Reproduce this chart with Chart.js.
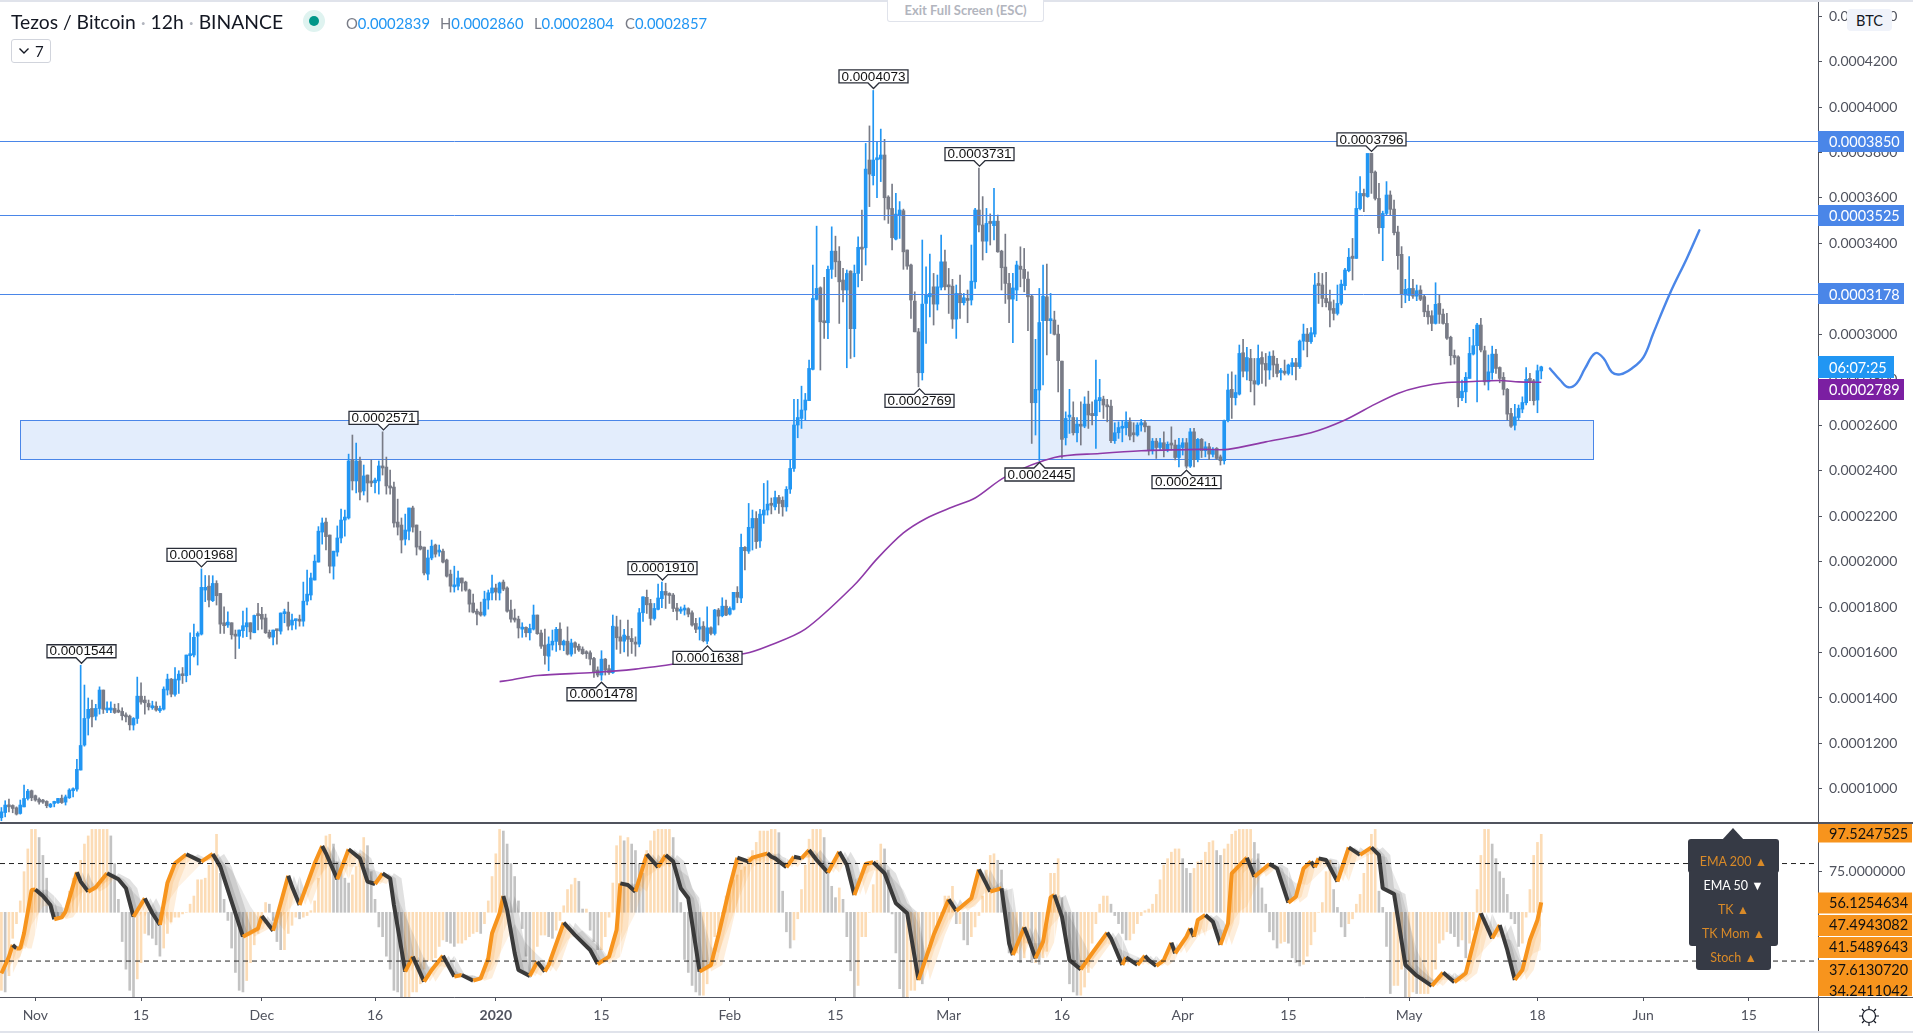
<!DOCTYPE html>
<html><head><meta charset="utf-8"><title>Tezos / Bitcoin</title>
<script src="https://cdn.jsdelivr.net/npm/chart.js@4/dist/chart.umd.js"></script>
<style>
html,body{margin:0;background:#fff;overflow:hidden}
#page{position:relative;width:1913px;height:1035px;overflow:hidden;font-family:Lato,sans-serif}
canvas{position:absolute;left:0}
.a{position:absolute;white-space:nowrap}
.g{color:#787b86}.b{color:#2196f3}
.pop{position:absolute;background:#363a45;border-radius:3px}
.pt{position:absolute;left:1688px;width:91px;text-align:center;font:12.5px Lato,sans-serif;line-height:16px;white-space:nowrap}
</style></head><body><div id="page">
<canvas id="main" width="1913" height="823" style="top:0"></canvas>
<canvas id="osc" width="1913" height="208" style="top:823px"></canvas>
<div class="a" style="left:0;top:0;width:1913px;height:2px;background:#e0e3eb"></div>
<div class="a" style="left:0;top:1031px;width:1913px;height:2px;background:#e0e3eb"></div>
<div class="a" style="left:0;top:822px;width:1913px;height:2px;background:#50535e"></div>
<div class="a" style="left:1818px;top:997px;width:95px;height:1px;background:#50535e"></div>
<div class="a" style="left:1818px;top:997px;width:1px;height:34px;background:#50535e"></div>
<div class="a" style="left:887px;top:0;width:155px;height:21px;border:1px solid #e0e3eb;border-top:0;border-radius:0 0 3px 3px;background:#fff;color:#b2b5be;font:bold 13px Lato,sans-serif;text-align:center;line-height:20px">Exit Full Screen (ESC)</div>
<div class="a" style="left:11px;top:10px;font-size:19.3px;color:#131722;line-height:24px">Tezos / Bitcoin <span style="color:#b2b5be">·</span> 12h <span style="color:#b2b5be">·</span> BINANCE</div>
<div class="a" style="left:303px;top:10px;width:22px;height:22px;border-radius:50%;background:#dff3f0"></div>
<div class="a" style="left:309px;top:16px;width:10px;height:10px;border-radius:50%;background:#009688"></div>
<div class="a" style="left:346px;top:14px;font-size:14.8px;line-height:19px"><span class="g">O</span><span class="b">0.0002839</span></div>
<div class="a" style="left:440px;top:14px;font-size:14.8px;line-height:19px"><span class="g">H</span><span class="b">0.0002860</span></div>
<div class="a" style="left:534px;top:14px;font-size:14.8px;line-height:19px"><span class="g">L</span><span class="b">0.0002804</span></div>
<div class="a" style="left:625px;top:14px;font-size:14.8px;line-height:19px"><span class="g">C</span><span class="b">0.0002857</span></div>
<div class="a" style="left:11px;top:39px;width:38px;height:22px;border:1px solid #d1d4dc;border-radius:3px"></div>
<svg class="a" style="left:18px;top:47px" width="12" height="8"><path d="M1.5 1.5L6 6L10.5 1.5" fill="none" stroke="#131722" stroke-width="1.4"/></svg>
<div class="a" style="left:35px;top:41px;font-size:15px;color:#131722;line-height:20px">7</div>
<div class="a" style="left:1847px;top:9px;width:45px;height:22px;border-radius:4px;background:#f0f3fa;color:#131722;font-size:14.5px;text-align:center;line-height:23px">BTC</div>
<svg class="a" style="left:1857px;top:1004px" width="24" height="24"><g fill="none" stroke="#131722" stroke-width="1.2"><circle cx="12" cy="12" r="6.5"/><path d="M12 2v3M12 19v3M2 12h3M19 12h3M5 5l2 2M17 17l2 2M5 19l2-2M17 7l2-2"/></g></svg>
<svg class="a" style="left:1722px;top:828px" width="22" height="12"><path d="M0 12L11 0L22 12Z" fill="#363a45"/></svg>
<div class="pop" style="left:1688px;top:839px;width:91px;height:34px"></div>
<div class="pop" style="left:1689px;top:870px;width:89px;height:76px"></div>
<div class="pop" style="left:1696px;top:940px;width:75px;height:30px"></div>
<div class="pt" style="top:854px;color:#d98a28">EMA 200 ▲</div>
<div class="pt" style="top:878px;color:#fff">EMA 50 ▼</div>
<div class="pt" style="top:902px;color:#d98a28">TK ▲</div>
<div class="pt" style="top:926px;color:#d98a28">TK Mom ▲</div>
<div class="pt" style="top:950px;color:#d98a28">Stoch ▲</div>
</div>
<script>
// Prices in units of 0.0000001 BTC, one entry per 12h bar
const opens=[873,896,929,927,917,892,921,958,992,970,
955,948,945,921,936,939,959,942,961,992,
999,1083,1193,1311,1354,1320,1354,1435,1347,1347,
1354,1342,1341,1325,1320,1281,1310,1408,1391,1376,
1357,1364,1344,1351,1435,1483,1416,1479,1505,1498,
1586,1589,1672,1681,1875,1892,1828,1904,1860,1731,
1721,1731,1681,1672,1696,1713,1731,1687,1765,1768,
1752,1689,1668,1699,1694,1771,1778,1721,1740,1746,
1738,1826,1853,1919,1998,2130,2174,2117,1980,2042,
2104,2183,2192,2447,2355,2443,2311,2381,2350,2347,
2355,2421,2416,2333,2328,2174,2161,2099,2134,2236,
2161,2068,2064,1945,2016,2073,2042,2046,2007,1945,
1889,1892,1928,1910,1875,1818,1782,1778,1765,1831,
1862,1884,1862,1910,1884,1787,1747,1747,1703,1711,
1687,1703,1765,1686,1633,1584,1633,1649,1703,1633,
1650,1593,1643,1628,1615,1598,1599,1574,1523,1501,
1571,1529,1511,1713,1669,1650,1672,1662,1646,1637,
1775,1843,1816,1750,1790,1837,1869,1859,1853,1796,
1782,1787,1793,1775,1728,1703,1716,1650,1709,1684,
1787,1762,1804,1769,1790,1865,1840,2063,2046,2148,
2190,2091,2205,2227,2253,2241,2282,2270,2241,2319,
2410,2601,2630,2667,2708,2846,3154,3205,3058,3051,
3286,3366,3322,3239,3195,3278,3025,3268,3383,3381,
3767,3698,3768,3771,3789,3604,3554,3419,3522,3544,
3371,3305,3146,3011,2831,3136,3165,3209,3133,3207,
3319,3212,3212,3067,3180,3139,3158,3151,3231,3547,
3481,3410,3495,3478,3498,3366,3296,3224,3155,3195,
3300,3286,3243,3168,2699,2755,3060,3165,3060,3063,
3001,2882,2545,2636,2634,2567,2601,2596,2693,2652,
2642,2708,2715,2689,2684,2532,2567,2587,2589,2615,
2567,2557,2601,2611,2596,2488,2530,2502,2523,2494,
2517,2513,2458,2502,2523,2420,2571,2449,2538,2488,
2505,2472,2498,2461,2444,2620,2758,2721,2737,2919,
2838,2894,2796,2781,2898,2872,2843,2904,2869,2832,
2838,2828,2858,2875,2858,2970,3001,2968,3001,3221,
3217,3158,3143,3114,3092,3136,3214,3280,3344,3334,
3553,3620,3606,3796,3714,3598,3469,3532,3613,3551,
3450,3352,3173,3171,3202,3168,3195,3166,3102,3082,
3048,3136,3089,3048,2987,2906,2901,2721,2747,2806,
2913,2950,3041,2928,2791,2832,2913,2854,2811,2758,
2652,2600,2634,2671,2699,2806,2796,2711,2839];
const closes=[899,929,921,914,889,929,958,990,961,951,
942,942,926,933,942,958,940,965,995,999,
1086,1191,1310,1350,1317,1354,1435,1350,1353,1356,
1336,1338,1322,1317,1282,1310,1408,1382,1379,1361,
1366,1347,1354,1439,1483,1417,1483,1505,1498,1589,
1593,1667,1684,1887,1887,1831,1904,1850,1725,1718,
1734,1678,1672,1699,1718,1731,1691,1763,1762,1747,
1687,1668,1699,1696,1774,1778,1716,1743,1747,1738,
1826,1857,1928,2002,2134,2170,2110,1980,2046,2104,
2183,2196,2443,2355,2443,2306,2377,2346,2346,2359,
2421,2412,2333,2324,2170,2152,2095,2139,2236,2152,
2064,2055,1950,2016,2068,2033,2046,1998,1936,1892,
1897,1928,1906,1875,1813,1778,1769,1765,1835,1863,
1884,1866,1906,1879,1782,1747,1743,1708,1712,1687,
1706,1765,1683,1628,1587,1637,1650,1702,1634,1650,
1593,1642,1623,1611,1595,1595,1571,1515,1501,1571,
1523,1511,1716,1665,1650,1677,1658,1648,1637,1775,
1845,1810,1750,1794,1840,1869,1853,1851,1794,1782,
1791,1791,1769,1721,1702,1713,1652,1709,1684,1787,
1760,1804,1765,1794,1865,1843,2063,2048,2151,2190,
2088,2209,2227,2253,2248,2282,2256,2241,2318,2410,
2601,2634,2667,2711,2850,3158,3202,3055,3051,3286,
3366,3319,3231,3195,3268,3025,3268,3383,3375,3727,
3705,3767,3776,3789,3601,3551,3425,3529,3547,3363,
3300,3151,3011,2831,3133,3173,3180,3133,3209,3319,
3209,3209,3067,3180,3139,3161,3149,3234,3547,3481,
3410,3488,3488,3498,3363,3293,3224,3155,3204,3305,
3286,3246,3165,2699,2758,3052,3168,3060,3066,3000,
2884,2538,2630,2643,2567,2605,2596,2693,2645,2642,
2711,2722,2689,2681,2532,2567,2590,2593,2615,2552,
2558,2601,2611,2593,2488,2530,2502,2523,2494,2516,
2513,2458,2513,2523,2420,2571,2449,2538,2488,2505,
2473,2494,2454,2444,2620,2755,2722,2744,2916,2838,
2898,2796,2781,2894,2869,2843,2904,2865,2828,2838,
2829,2865,2875,2858,2970,3001,2968,3007,3217,3215,
3158,3139,3107,3092,3136,3221,3283,3339,3334,3554,
3620,3609,3796,3711,3598,3469,3532,3613,3550,3447,
3346,3176,3198,3202,3168,3192,3154,3099,3077,3048,
3132,3088,3048,2983,2906,2898,2721,2750,2811,2916,
2950,3041,2931,2791,2835,2913,2850,2806,2758,2649,
2596,2637,2674,2700,2802,2791,2708,2840,2857];
const highs=[918,948,955,930,921,951,1017,998,995,973,
961,954,948,936,946,959,973,973,1001,1005,
1130,1544,1457,1400,1391,1372,1449,1435,1383,1383,
1373,1376,1357,1335,1325,1314,1492,1467,1408,1391,
1386,1383,1364,1449,1505,1486,1534,1520,1534,1589,
1687,1725,1691,1968,1939,1939,1938,1916,1860,1801,
1779,1731,1699,1699,1782,1796,1731,1765,1816,1799,
1769,1699,1699,1699,1774,1791,1822,1769,1747,1765,
1910,1963,1950,2029,2154,2192,2192,2117,2046,2157,
2231,2227,2473,2557,2522,2460,2425,2381,2447,2368,
2443,2571,2460,2403,2350,2275,2192,2209,2236,2244,
2161,2134,2064,2051,2095,2077,2073,2055,2011,1963,
1980,1958,1928,1914,1879,1857,1791,1822,1870,1875,
1941,1901,1910,1919,1889,1831,1791,1760,1731,1713,
1725,1809,1765,1699,1703,1669,1699,1711,1731,1655,
1713,1659,1647,1637,1625,1608,1608,1579,1537,1608,
1574,1545,1765,1760,1743,1702,1743,1706,1669,1794,
1845,1875,1834,1816,1901,1910,1905,1863,1860,1816,
1801,1809,1797,1784,1750,1753,1736,1801,1713,1790,
1794,1841,1831,1801,1865,1890,2121,2066,2256,2227,
2220,2230,2344,2356,2280,2310,2292,2285,2330,2450,
2714,2714,2772,2740,2887,3305,3476,3209,3251,3300,
3473,3432,3386,3290,3283,3280,3305,3429,3547,3840,
3917,4073,3845,3903,3858,3610,3661,3620,3584,3551,
3371,3309,3187,3026,3415,3297,3353,3268,3261,3437,
3371,3290,3242,3217,3261,3180,3195,3393,3554,3731,
3606,3554,3530,3642,3525,3370,3441,3268,3268,3322,
3385,3378,3275,3173,2978,3202,3305,3309,3180,3102,
3041,2882,2659,2758,2703,2634,2703,2725,2750,2703,
2887,2802,2728,2714,2711,2611,2615,2620,2659,2633,
2611,2611,2626,2622,2596,2542,2542,2542,2571,2527,
2593,2535,2542,2542,2542,2586,2586,2542,2542,2527,
2520,2502,2502,2469,2623,2825,2835,2821,2953,2978,
2943,2934,2894,2953,2923,2916,2923,2928,2894,2850,
2887,2869,2894,2894,2975,3045,3026,3030,3268,3273,
3268,3273,3195,3151,3217,3239,3290,3378,3422,3628,
3694,3639,3790,3796,3719,3664,3542,3672,3631,3591,
3476,3386,3242,3342,3242,3217,3214,3173,3129,3104,
3227,3173,3111,3092,2992,2931,2906,2799,2832,2987,
3022,3048,3070,2948,2909,2948,2934,2857,2832,2762,
2674,2692,2689,2725,2854,2828,2802,2865,2860];
const lows=[860,877,899,895,885,889,921,951,948,946,
933,936,917,918,921,936,936,929,958,965,
990,1083,1188,1237,1273,1303,1329,1332,1335,1335,
1332,1335,1303,1295,1259,1259,1288,1373,1329,1347,
1350,1342,1336,1347,1413,1405,1408,1420,1464,1471,
1501,1581,1545,1677,1824,1801,1824,1809,1684,1684,
1711,1659,1573,1618,1667,1670,1659,1687,1699,1703,
1684,1662,1633,1637,1681,1731,1699,1699,1703,1716,
1716,1809,1831,1919,1998,2077,2051,1950,1923,2024,
2082,2112,2187,2315,2302,2271,2293,2262,2330,2302,
2297,2381,2297,2297,2152,2117,2038,2073,2095,2130,
2029,2051,1941,1919,2008,2020,2024,1994,1932,1866,
1866,1875,1870,1870,1778,1774,1721,1760,1760,1791,
1831,1831,1831,1872,1778,1734,1734,1664,1667,1669,
1655,1699,1680,1618,1549,1520,1611,1605,1611,1608,
1589,1584,1596,1605,1592,1574,1545,1490,1493,1478,
1501,1504,1508,1614,1596,1603,1584,1596,1584,1625,
1737,1772,1721,1743,1787,1797,1794,1816,1780,1743,
1772,1765,1757,1716,1687,1655,1647,1638,1677,1677,
1721,1757,1762,1765,1787,1819,1819,1963,2036,2051,
2058,2063,2168,2205,2210,2227,2212,2200,2222,2300,
2397,2545,2586,2623,2708,2843,3151,2843,2982,2981,
3246,3253,3048,3143,2853,2894,2901,3209,3236,3305,
3562,3657,3601,3672,3503,3488,3371,3415,3422,3286,
3286,3070,3011,2769,2799,2960,3077,3041,3107,3195,
3195,3092,3026,2982,3070,3129,3051,3129,3202,3451,
3327,3359,3393,3415,3361,3195,3136,3051,2963,3148,
3209,3187,3016,2520,2557,2445,2777,2909,3004,2997,
2747,2455,2513,2564,2557,2527,2513,2589,2586,2601,
2498,2659,2630,2615,2523,2520,2542,2527,2557,2535,
2527,2552,2574,2571,2469,2473,2454,2488,2461,2483,
2491,2447,2417,2469,2411,2414,2417,2439,2458,2461,
2449,2461,2449,2425,2429,2615,2630,2689,2733,2813,
2799,2747,2689,2777,2784,2772,2802,2813,2813,2799,
2821,2821,2821,2799,2850,2931,2901,2960,2989,3136,
3121,3121,3033,3063,3085,3129,3195,3275,3239,3334,
3547,3540,3603,3620,3591,3444,3324,3525,3525,3437,
3286,3117,3139,3148,3158,3148,3148,3078,3045,3016,
3045,3048,3045,2978,2865,2869,2681,2708,2699,2806,
2909,2703,2923,2777,2755,2802,2828,2787,2733,2623,
2590,2579,2623,2655,2689,2708,2689,2655,2804];
const maBars=[132,135,142,157,168,178,197,203,213,226,232,239,245,252,258,266,279,291,302,318,325,335,347,356,364,370,376,383,388,397,402,408];
const maValues=[1472,1479,1499,1512,1527,1549,1596,1628,1703,1897,2012,2126,2190,2240,2280,2373,2458,2476,2488,2494,2494,2527,2567,2623,2693,2740,2769,2788,2791,2797,2791,2789];
const curveBars=[410.3,413,415.2,417.4,419.6,422.3,424.5,426.7,428.9,432,435.1,437.7,442.1,446.6,449.9];
const curveValues=[2850,2799,2767,2785,2850,2917,2895,2834,2824,2850,2900,3005,3180,3335,3458];
const levelPrices=[3850,3525,3178];
const zoneBars=[5.06,421.8];
const zonePrices=[2450,2623];
const priceTicks=[1000,1200,1400,1600,1800,2000,2200,2400,2600,2800,3000,3200,3400,3600,3800,4000,4200,4400];
const calloutBars=[21,53,101,175,231,259,363,159,187,243,275,314];
const calloutPrices=[1544,1968,2571,1910,4073,3731,3796,1478,1638,2769,2445,2411];
const calloutIsHigh=[1,1,1,1,1,1,1,0,0,0,0,0];
const lastPrice=2857, maPrice=2789, timerText="06:07:25";
// Oscillator: histogram per bar around 50
const histValues=[2,1,11,34,43,57,75,89,101,101,96,85,71,55,47,46,47,50,63,71,75,82,92,97,101,101,101,101,101,97,80,58,32,15,2,-2,9,19,37,36,34,30,23,28,37,44,47,47,49,50,55,60,70,70,71,79,86,98,74,58,45,28,13,2,1,8,19,30,37,47,56,55,45,32,27,27,37,42,47,46,47,48,51,57,71,88,97,98,92,81,75,71,68,73,78,86,96,91,75,58,41,35,23,15,2,1,-2,-2,-2,1,1,6,15,20,20,22,29,33,32,31,29,31,31,33,35,37,38,37,43,57,72,86,101,
100,92,80,72,57,40,23,10,15,29,36,36,35,34,39,45,54,64,67,71,69,52,52,39,32,27,27,35,47,68,91,97,94,96,92,88,80,74,88,94,100,101,101,101,101,96,72,56,21,13,5,1,-1,-1,6,19,35,39,49,60,66,70,73,76,78,84,88,93,100,100,100,101,101,99,63,38,28,33,46,64,79,95,101,101,101,96,74,66,59,65,58,35,14,-2,5,35,35,50,67,82,92,89,76,49,25,3,-2,-2,2,2,8,6,21,31,35,42,49,60,60,66,43,43,33,30,35,41,48,60,76,85,86,82,
76,51,25,25,25,19,22,31,19,19,18,22,26,74,74,83,59,31,6,1,-1,-1,4,13,31,43,55,60,60,55,48,43,37,33,33,37,43,48,51,52,55,61,70,79,83,87,89,89,83,77,74,77,81,82,87,93,94,88,85,89,92,98,100,101,101,101,101,93,86,65,55,38,33,28,31,32,31,22,19,17,18,23,30,38,50,56,75,82,64,53,41,35,43,46,55,61,74,86,98,101,63,53,29,0,5,5,15,-2,-2,1,0,0,0,0,8,15,31,33,38,37,35,29,33,22,31,39,64,85,101,101,92,83,75,71,61,46,43,29,31,47,64,85,93,98];
// Fast TK line vertices
const tkBars=[0,2,3,4,5,6,8,9,11,13,14,16,17,20,21,23,25,28,31,33,35,38,40,42,44,46,49,53,56,58,64,68,69,72,76,77,79,83,85,86,89,92,95,97,99,101,103,104,107,109,112,114,117,120,122,125,127,129,130,132,133,134,136,137,140,142,144,145,149,152,156,158,161,163,164,166,168,171,174,176,178,180,182,185,188,190,193,195,198,199,203,204,205,208,210,212,214,216,219,222,224,226,229,231,234,237,240,243,246,247,251,253,257,259,262,265,267,268,271,272,274,276,278,279,281,283,286,289,293,294,297,298,301,303,304,306,308,310,311,314,315,316,317,319,321,323,325,326,330,332,336,338,341,343,345,347,348,349,351,354,357,360,363,365,366,369,372,375,379,382,385,388,392,395,397,399,401,403,405,407,408];
const tkValues=[12.4,22.7,29.9,27.8,27.8,37.1,63.7,64.1,60,54.5,45.7,46.9,50.4,74.6,68.9,62.7,65.4,74,70.3,64.8,47.3,58.6,49.4,42.2,68.2,80.1,85.7,81.2,85.9,78.1,35,40.1,47.7,38.7,72.5,65.8,54.5,80.1,90.8,86.3,70.3,88.8,83.2,68.9,67.4,74,70.9,54.5,13.5,22.7,7.3,14.5,23.3,10.4,11.4,7.9,9.4,21.7,37.1,49.4,60,51.4,24.8,14.5,10.8,19.6,13.5,17.6,43.6,36,26.8,18.2,22.7,39.1,67.8,66.8,62.7,85.7,77.7,85.3,81.2,64.8,58.6,13.5,17.6,36,65.8,83.6,81.2,83.6,86.3,84.2,83.2,77.7,84.2,83.2,88.3,82.2,74.4,87.3,79.1,60.6,79.7,80.8,74,55.5,49.4,8.4,28.9,36,58,50.8,58.6,76.4,62.7,64.8,30.9,23.7,40.8,35,21.7,31.9,59.2,60.7,47.3,20.6,14.9,24.8,37.5,34,17.6,22.3,17.6,23.3,20.6,17,20.6,31.3,24.8,35,40.1,35,45.3,48.4,44.2,29.9,43.2,74,83.6,71.9,79.7,77,55.9,59.6,77,81.2,77.7,83.2,82.2,68.9,90,85.3,90,85.3,64.8,61.3,17.6,11,4.7,12.9,7,12.5,49.4,34,42.2,26.8,8.4,14.5,33,45.3,56.1];
// Lagging edge of the TK ribbon
const ribbonBars=[2,5,8,11,14,17,21,26,30,34,37,42,47,53,57,61,66,69,72,76,80,85,88,92,96,100,103,106,111,113,117,122,126,130,132,136,139,143,146,150,154,158,161,164,168,171,175,177,182,185,188,190,193,196,199,203,207,210,214,219,222,225,226,231,235,239,243,245,248,251,254,258,260,265,268,271,275,278,282,287,289,293,297,303,306,310,315,321,325,328,330,334,338,343,346,351,354,358,363,367,371,375,379,384,388,392,396,400,403,406,408];
const ribbonValues=[17.6,22.7,42.2,53.5,54.5,52.5,61.7,66.8,70.9,64.8,57.6,49.4,65.8,80.1,84.2,76,53.5,43.2,42.2,51.4,61.7,74,82.2,78,78,75,69.9,53.5,26.8,16.6,16.6,12.4,10.4,14.5,24,43,31,21.7,16.6,33,39,31,21.7,31,49.4,72,78,81,72,53.5,29,24.8,43,61.7,78,82,81,80,84,81,81,77,70,76,74,63.7,43,21.7,31,45,51.4,53.5,60.6,68.9,51,31,31,41,51.4,31,20.6,31,26.8,20.6,18.6,24.8,34,40,39,50.4,53.5,74,78,67.8,66.8,78,78,80,86,84,61.7,26.8,8.4,8.4,14.5,24.8,35,33,16.6,24.8,26.8];
const ribbonLags=[1.5,3];
const oscLevels=[80,20];
const oscTicks=[75];
const oscTagValues=[97.5247525,56.1254634,47.4943082,41.5489643,37.6130720,34.2411042];
const timeBars=[9,37,69,99,131,159,193,221,251,281,313,341,373,407,435,463];
const timeLabels=["Nov","15","Dec","16","2020","15","Feb","15","Mar","16","Apr","15","May","18","Jun","15"];

const BLUE="#2196f3",GRAY="#787b86",LINE="#4a86e8",AXIS="#50535e",ORANGE="#f7941d",DARK="#3a3a3a";
const TICKFONT={family:"Lato",size:14};
const xMin=-0.371,xMax=481.33;
const seq=(xs,ys)=>xs.map((x,i)=>({x,y:ys[i]}));
const up=i=>closes[i]>=opens[i];
const candleColors=opens.map((_,i)=>up(i)?BLUE:GRAY);
const histColors=histValues.map((v,i)=>(i===0||v>=histValues[i-1])?"#fcdcb6":"#c3c3c3");
const noPad=s=>{s.paddingTop=0;s.paddingBottom=0;s.paddingLeft=0;s.paddingRight=0};
Chart.defaults.animation=false;
Chart.defaults.responsive=false;

const zonePlugin={id:"zone",beforeDatasetsDraw(c){
  const g=c.ctx,x=c.scales.x,y=c.scales.y;
  const x0=x.getPixelForValue(zoneBars[0]),x1=x.getPixelForValue(zoneBars[1]);
  const y0=y.getPixelForValue(zonePrices[1]),y1=y.getPixelForValue(zonePrices[0]);
  g.save();g.fillStyle="#e3edfc";g.fillRect(x0,y0,x1-x0,y1-y0);
  g.strokeStyle=LINE;g.lineWidth=1;g.strokeRect(Math.round(x0)+.5,Math.round(y0)+.5,Math.round(x1-x0),Math.round(y1-y0));g.restore();
}};
const fmt=v=>(v/1e7).toFixed(7);
function tag(g,y,w,h,bg,fg,text,left){
  g.fillStyle=bg;g.fillRect(left,Math.round(y-h/2),w,h);
  g.fillStyle=fg;g.font="14.5px Lato";g.textAlign="left";g.textBaseline="middle";
  g.fillText(text,left+11,y+1);
}
const mainOverlay={id:"mainOverlay",afterDatasetsDraw(c){
  const g=c.ctx,x=c.scales.x,y=c.scales.y;
  g.save();
  g.strokeStyle=LINE;g.lineWidth=1;
  levelPrices.forEach(v=>{const p=Math.round(y.getPixelForValue(v))+.5;g.beginPath();g.moveTo(0,p);g.lineTo(1818,p);g.stroke();});
  calloutBars.forEach((b,i)=>{
    const px=Math.round(x.getPixelForValue(b))+.5,v=calloutPrices[i],hi=calloutIsHigh[i];
    const tip=y.getPixelForValue(v)+(hi?-2:2),d=hi?-1:1;
    const near=tip+d*5.5,far=near+d*13,t=Math.min(near,far);
    g.beginPath();g.moveTo(px-34.5,near);g.lineTo(px-5.5,near);g.lineTo(px,tip);g.lineTo(px+5.5,near);g.lineTo(px+34.5,near);g.lineTo(px+34.5,far);g.lineTo(px-34.5,far);g.closePath();
    g.fillStyle="#fff";g.fill();g.strokeStyle="#2a2e39";g.lineWidth=1.3;g.stroke();
    g.fillStyle="#111";g.font="13.5px 'Liberation Sans'";g.textAlign="center";g.textBaseline="middle";
    g.fillText(fmt(v),px,t+7);
  });
  g.restore();
},afterDraw(c){
  const g=c.ctx,y=c.scales.y;g.save();
  levelPrices.forEach(v=>tag(g,y.getPixelForValue(v),86,21,LINE,"#fff",fmt(v),1818));
  tag(g,y.getPixelForValue(lastPrice),76,22,BLUE,"#fff",timerText,1818);
  // the EMA tag is pushed below the timer tag, as the price axis stacks them
  tag(g,y.getPixelForValue(lastPrice)+22.5,86,21,"#7b1fa2","#fff",fmt(maPrice),1818);
  g.restore();
}};
new Chart(document.getElementById("main"),{type:"bar",plugins:[zonePlugin,mainOverlay],
 data:{datasets:[
  {label:"Wicks",order:5,grouped:false,barThickness:1,minBarLength:1,backgroundColor:candleColors,data:opens.map((_,i)=>({x:i,y:[lows[i],highs[i]]}))},
  {label:"Bodies",order:4,grouped:false,barThickness:3,minBarLength:2,backgroundColor:candleColors,data:opens.map((o,i)=>({x:i,y:[Math.min(o,closes[i]),Math.max(o,closes[i])]}))},
  {type:"line",label:"EMA 200",order:2,borderColor:"#8e3aa8",borderWidth:1.6,pointRadius:0,tension:.3,data:seq(maBars,maValues)},
  {type:"line",label:"Path",order:1,borderColor:LINE,borderWidth:2.4,pointRadius:0,tension:.4,borderCapStyle:"round",data:seq(curveBars,curveValues)}
 ]},
 options:{layout:{padding:0},plugins:{legend:{display:false},tooltip:{enabled:false}},
 scales:{
  x:{type:"linear",display:false,offset:false,min:xMin,max:xMax,grid:{display:false}},
  y:{type:"linear",position:"right",min:850,max:4471,afterFit(s){s.width=95;noPad(s)},
     afterBuildTicks(s){s.ticks=priceTicks.map(value=>({value}))},
     border:{display:true,color:AXIS,width:1},grid:{drawOnChartArea:false,tickLength:4,tickColor:AXIS},
     ticks:{font:TICKFONT,color:AXIS,padding:7,callback:v=>fmt(v)}}
 }}
});
const oscOverlay={id:"oscOverlay",afterDraw(c){
  const g=c.ctx;g.save();
  const slots=[10.5,79.5,102,124,147,168];
  oscTagValues.forEach((v,i)=>{const h=i===5?15:21;
    g.fillStyle=ORANGE;g.fillRect(1818,slots[i]-10,94,i===0?19:h);
    g.fillStyle="#111";g.font="14.5px Lato";g.textAlign="left";g.textBaseline="middle";g.fillText(v.toFixed(7),1829,slots[i]+.5);
  });
  g.restore();
}};
const rise=ctx=>ctx.p1.parsed.y>=ctx.p0.parsed.y?ORANGE:DARK;
const fan=(above,below)=>({target:1,above,below});
new Chart(document.getElementById("osc"),{type:"bar",plugins:[oscOverlay],
 data:{datasets:[
  {label:"Stoch",order:6,grouped:false,barThickness:2,backgroundColor:histColors,data:histValues.map((v,i)=>({x:i,y:[Math.min(50,v),Math.max(50,v)]}))},
  {type:"line",label:"TK",order:1,borderWidth:4,pointRadius:0,borderColor:ORANGE,borderJoinStyle:"bevel",segment:{borderColor:rise},data:seq(tkBars,tkValues)},
  {type:"line",label:"Ribbon",order:4,borderWidth:0,pointRadius:0,fill:fan("rgba(70,70,70,.12)","rgba(247,148,29,.12)"),data:seq(ribbonBars,ribbonValues)},
  ...ribbonLags.map(lag=>({type:"line",label:"Ribbon lag",order:3,borderWidth:0,pointRadius:0,fill:fan("rgba(70,70,70,.16)","rgba(247,148,29,.16)"),data:seq(tkBars.map(b=>b+lag),tkValues)})),
  ...oscLevels.map(v=>({type:"line",label:"Level",order:0,borderColor:"#222",borderWidth:1,borderDash:[5,4],pointRadius:0,data:[{x:xMin,y:v},{x:xMax,y:v}]}))
 ]},
 options:{layout:{padding:0},plugins:{legend:{display:false},tooltip:{enabled:false},filler:{propagate:false}},
 scales:{
  x:{type:"linear",offset:false,min:xMin,max:xMax,afterFit(s){s.height=34;noPad(s)},
     afterBuildTicks(s){s.ticks=timeBars.map(value=>({value}))},
     border:{display:true,color:AXIS,width:1},grid:{drawOnChartArea:false,offset:false,tickLength:4,tickColor:AXIS},
     ticks:{autoSkip:false,maxRotation:0,minRotation:0,color:AXIS,padding:6,
       font:ctx=>({family:"Lato",size:14,weight:ctx.tick&&timeLabels[timeBars.indexOf(ctx.tick.value)]==="2020"?"bold":"normal"}),
       callback:v=>timeLabels[timeBars.indexOf(v)]}},
  y:{type:"linear",position:"right",min:-2.12,max:104.95,afterFit(s){s.width=95;noPad(s)},
     afterBuildTicks(s){s.ticks=oscTicks.map(value=>({value}))},
     border:{display:true,color:AXIS,width:1},grid:{drawOnChartArea:false,tickLength:4,tickColor:AXIS},
     ticks:{font:TICKFONT,color:AXIS,padding:7,callback:v=>v.toFixed(7)}}
 }}
});
</script></body></html>
